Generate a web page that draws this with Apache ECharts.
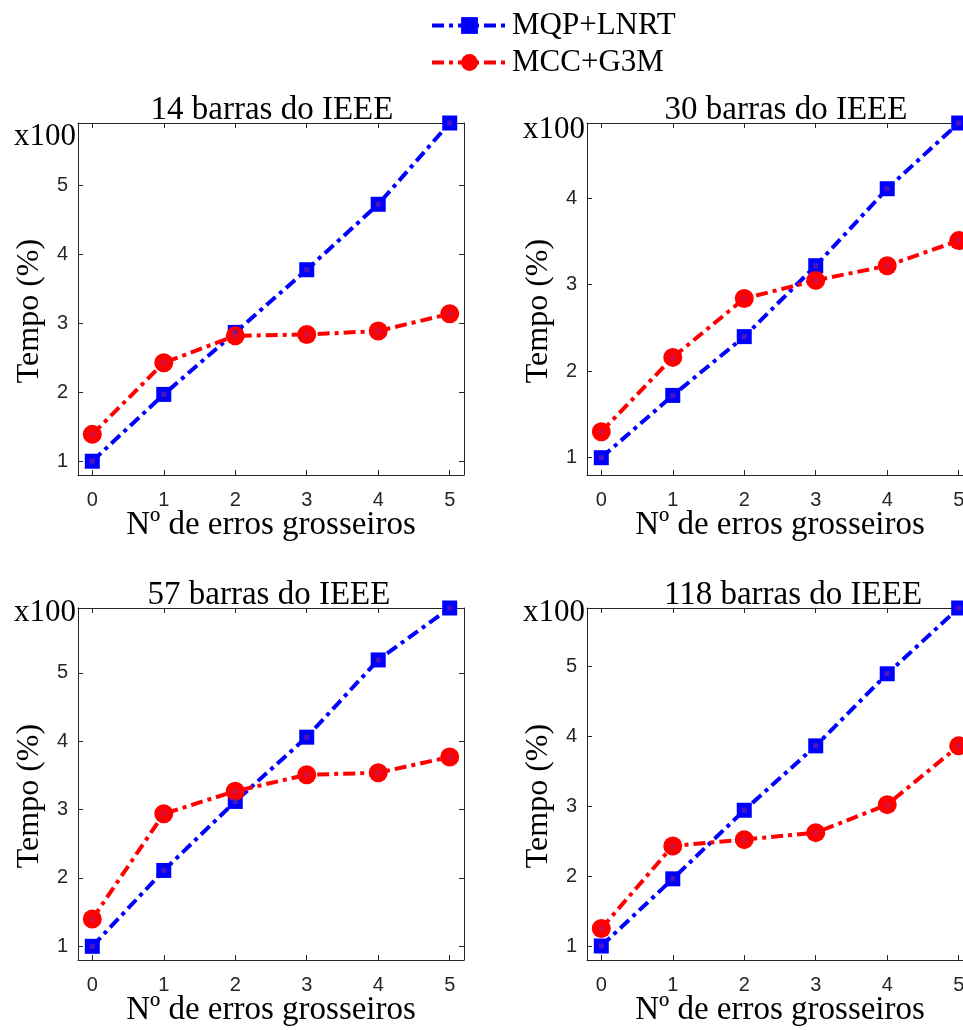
<!DOCTYPE html>
<html>
<head>
<meta charset="utf-8">
<script src="https://cdn.jsdelivr.net/npm/echarts@6/dist/echarts.min.js"></script>
<style>html,body{margin:0;padding:0;background:#fff;}#c{width:963px;height:1030px;}</style>
</head>
<body>
<div id="c"></div>
<script>
// ---- data ----
const xs = [0, 1, 2, 3, 4, 5];
const titles = ['14 barras do IEEE', '30 barras do IEEE', '57 barras do IEEE', '118 barras do IEEE'];
const seriesNames = ['MQP+LNRT', 'MCC+G3M'];
const mqp14 = [1.00, 1.97, 2.87, 3.78, 4.73, 5.91];
const mcc14 = [1.39, 2.43, 2.82, 2.84, 2.89, 3.14];
const mqp30 = [1.00, 1.72, 2.40, 3.22, 4.11, 4.87];
const mcc30 = [1.30, 2.16, 2.84, 3.05, 3.22, 3.51];
const mqp57 = [1.00, 2.11, 3.12, 4.06, 5.19, 5.95];
const mcc57 = [1.40, 2.94, 3.27, 3.51, 3.54, 3.77];
const mqp118 = [1.00, 1.96, 2.94, 3.86, 4.89, 5.83];
const mcc118 = [1.25, 2.43, 2.52, 2.62, 3.02, 3.86];
const topLabel = 'x100';
const xName = 'Nº de erros grosseiros';
const yName = 'Tempo (%)';

const panels = [
  { mqp: mqp14, mcc: mcc14, left: 78, top: 123, topPad: 28, titleX: 267 },
  { mqp: mqp30, mcc: mcc30, left: 587, top: 123, topPad: 14, titleX: 781 },
  { mqp: mqp57, mcc: mcc57, left: 78, top: 608, topPad: 10, titleX: 264 },
  { mqp: mqp118, mcc: mcc118, left: 587, top: 608, topPad: 10, titleX: 788 }
];
const W = 386, H = 352;
const AX = '#262626';
const SERIF = '"Liberation Serif", "Times New Roman", serif';
const SANS = '"Liberation Sans", Arial, sans-serif';
const BLUE = '#0000ff', RED = '#ff0000';
const DASH = [12, 5, 4, 5];
const LW = 4;

const grids = [], xAxes = [], yAxes = [], series = [], titleOpts = [];
const isInt = v => Math.abs(v - Math.round(v)) < 1e-6;

panels.forEach((p, k) => {
  grids.push({ left: p.left, top: p.top, width: W, height: H, containLabel: false, outerBoundsMode: 'none' });
  const ymax = Math.max(...p.mqp);
  const base = {
    gridIndex: k, type: 'value', min: -0.2, max: 5.2, splitNumber: 5,
    splitLine: { show: false },
    axisLine: { show: true, onZero: false, lineStyle: { color: AX, width: 1 } },
    axisTick: { show: true, inside: true, length: 5, lineStyle: { color: AX } }
  };
  xAxes.push(Object.assign({}, base, {
    position: 'bottom',
    name: xName, nameLocation: 'middle', nameGap: 34, nameMoveOverlap: false,
    nameTextStyle: { fontFamily: SERIF, fontSize: 33, color: '#000' },
    axisLabel: { show: true, margin: 15, fontFamily: SANS, fontSize: 20, color: AX,
      showMinLabel: false, showMaxLabel: false,
      formatter: v => isInt(v) ? String(Math.round(v)) : '' }
  }));
  xAxes.push(Object.assign({}, base, { position: 'top', axisLabel: { show: false } }));
  const ybase = {
    gridIndex: k, type: 'value', min: 0.8, max: ymax, splitNumber: 5,
    splitLine: { show: false },
    axisLine: { show: true, onZero: false, lineStyle: { color: AX, width: 1 } },
    axisTick: { show: true, inside: true, length: 5, lineStyle: { color: AX } }
  };
  yAxes.push(Object.assign({}, ybase, {
    position: 'left',
    name: yName, nameLocation: 'middle', nameGap: 32, nameRotate: 90, nameMoveOverlap: false,
    nameTextStyle: { fontFamily: SERIF, fontSize: 32, color: '#000', padding: [0, 24, 0, 0] },
    axisLabel: { show: true, margin: 2, showMinLabel: false, showMaxLabel: true,
      formatter: v => Math.abs(v - ymax) < 1e-6 ? '{h|' + topLabel + '}' :
        (isInt(v) && v >= 1 ? '{d|' + Math.round(v) + '}' : ''),
      rich: {
        d: { fontFamily: SANS, fontSize: 20, color: AX, padding: [0, 8, 0, 0] },
        h: { fontFamily: SERIF, fontSize: 31, color: '#000', padding: [p.topPad, 0, 0, 0] }
      } }
  }));
  yAxes.push(Object.assign({}, ybase, { position: 'right', axisLabel: { show: false } }));

  const xi = k * 2, yi = k * 2;
  series.push({
    name: seriesNames[0], type: 'line', xAxisIndex: xi, yAxisIndex: yi,
    data: xs.map((x, i) => [x, p.mqp[i]]),
    symbol: 'rect', symbolSize: 15, showAllSymbol: true,
    lineStyle: { color: BLUE, width: LW, type: DASH },
    itemStyle: { color: BLUE }, z: 3
  });
  series.push({
    name: seriesNames[1], type: 'line', xAxisIndex: xi, yAxisIndex: yi,
    data: xs.map((x, i) => [x, p.mcc[i]]),
    symbol: 'circle', symbolSize: 19, showAllSymbol: true,
    lineStyle: { color: RED, width: LW, type: DASH },
    itemStyle: { color: RED }, z: 4
  });
  series.push({
    name: 'c1', type: 'scatter', xAxisIndex: xi, yAxisIndex: yi,
    data: xs.map((x, i) => [x, p.mqp[i]]), symbol: 'rect', symbolSize: 5,
    itemStyle: { color: '#5a1cb0' }, z: 5, silent: true
  });
  series.push({
    name: 'c2', type: 'scatter', xAxisIndex: xi, yAxisIndex: yi,
    data: xs.map((x, i) => [x, p.mcc[i]]), symbol: 'circle', symbolSize: 6,
    itemStyle: { color: '#d0104c' }, z: 6, silent: true
  });

  titleOpts.push({
    text: titles[k], left: p.titleX, top: p.top - 34, textAlign: 'center',
    textStyle: { fontFamily: SERIF, fontSize: 33, fontWeight: 'normal', color: '#000' }
  });
});

const chart = echarts.init(document.getElementById('c'), null, { renderer: 'canvas' });
chart.setOption({
  backgroundColor: '#fff',
  animation: false,
  title: titleOpts,
  legend: {
    data: seriesNames, orient: 'vertical', left: 425, top: 5,
    itemWidth: 75, itemHeight: 21, itemGap: 6,
    lineStyle: { width: LW, type: DASH },
    textStyle: { fontFamily: SERIF, fontSize: 31, color: '#000' }
  },
  grid: grids, xAxis: xAxes, yAxis: yAxes, series: series
});
</script>
</body>
</html>
